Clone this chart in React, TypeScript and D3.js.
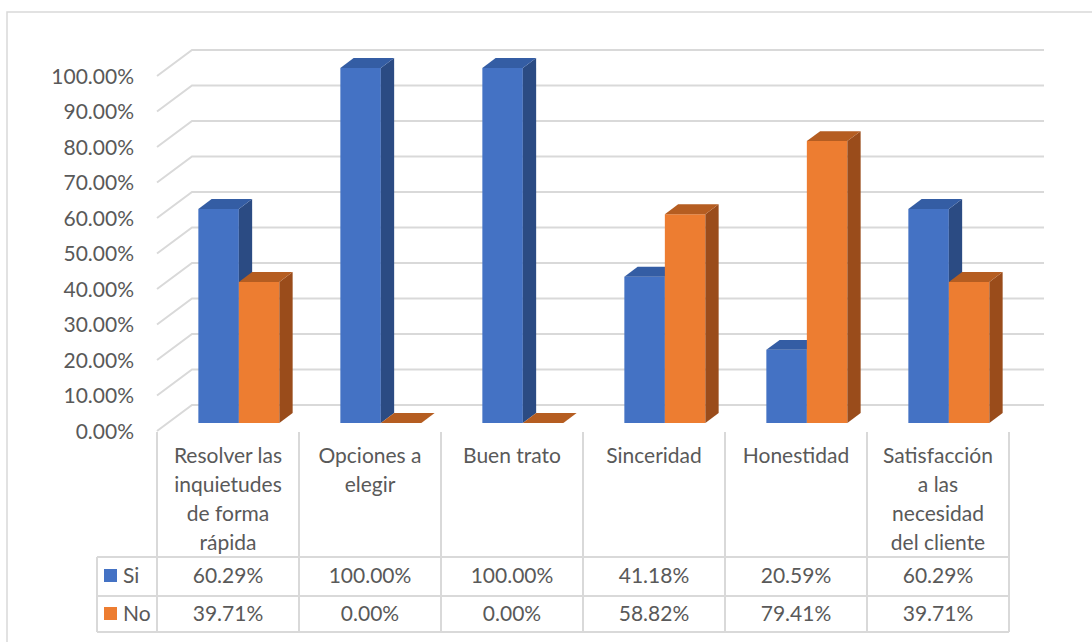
import React from "react";
import * as d3 from "d3";

const categories: string[][] = [
  ["Resolver las", "inquietudes", "de forma", "rápida"],
  ["Opciones a", "elegir"],
  ["Buen trato"],
  ["Sinceridad"],
  ["Honestidad"],
  ["Satisfacción", "a las", "necesidad", "del cliente"],
];
const seriesNames = ["Si", "No"];
const siValues = [0.6029, 1.0, 1.0, 0.4118, 0.2059, 0.6029];
const noValues = [0.3971, 0.0, 0.0, 0.5882, 0.7941, 0.3971];
const yTicks = [0, 0.1, 0.2, 0.3, 0.4, 0.5, 0.6, 0.7, 0.8, 0.9, 1.0];

const W = 1092;
const H = 642;
const FONT = "Lato, 'Open Sans', sans-serif";
const FS = 21;
const TEXT = "#595959";
const GRID = "#d9d9d9";

const colors = [
  { front: "#4472C4", side: "#2B4B83", top: "#345DA4" },
  { front: "#ED7D31", side: "#9A4C1B", top: "#B55D21" },
];

export default function App() {
  const catIdx = categories.map((_, i) => String(i));
  const x = d3.scaleBand<string>().domain(catIdx).range([157, 1009]).padding(0);
  const y = d3.scaleLinear().domain([0, 1]).range([431, 76]);
  const DX = 35;
  const DY = -26;
  const P = (px: number, v: number, z: number): [number, number] => [px + z * DX, y(v) + z * DY];
  const z0 = 0.31;
  const z1 = 0.69;
  const barW = 40.5;
  const fmt = (v: number) => (v * 100).toFixed(2) + "%";
  const data = [siValues, noValues];
  const poly = (pts: [number, number][]) => pts.map((p) => p.join(",")).join(" ");

  const bars: React.ReactNode[] = [];
  catIdx.forEach((c, ci) => {
    const cx = (x(c) as number) + x.bandwidth() / 2;
    const inner = d3.scaleBand<number>().domain([0, 1]).range([cx - barW, cx + barW]);
    data.forEach((vals, si) => {
      const v = vals[ci];
      const bx0 = inner(si) as number;
      const bx1 = bx0 + inner.bandwidth();
      const col = colors[si];
      const front = [P(bx0, 0, z0), P(bx1, 0, z0), P(bx1, v, z0), P(bx0, v, z0)];
      const side = [P(bx1, 0, z0), P(bx1, 0, z1), P(bx1, v, z1), P(bx1, v, z0)];
      const top = [P(bx0, v, z0), P(bx1, v, z0), P(bx1, v, z1), P(bx0, v, z1)];
      bars.push(
        <g key={`b${ci}-${si}`}>
          {v > 0 && <polygon points={poly(front)} fill={col.front} />}
          {v > 0 && <polygon points={poly(side)} fill={col.side} />}
          <polygon points={poly(top)} fill={col.top} />
        </g>
      );
    });
  });

  const boundaries = [...catIdx.map((c) => x(c) as number), 1009];
  const rowTop = 557;
  const rowMid = 596;
  const rowBot = 632;
  const legLeft = 97;

  return (
    <div style={{ position: "fixed", left: 0, top: 0, width: W, height: H, background: "#fff" }}>
      <svg width={W} height={H} style={{ display: "block" }}>
        <rect x={0} y={0} width={W} height={H} fill="#fff" />
        <rect x={7} y={12} width={W} height={H} fill="none" stroke={GRID} strokeWidth={1.5} />
        {yTicks.map((t) => {
          const a = P(157, t, 0);
          const b = P(157, t, 1);
          const c = P(1009, t, 1);
          return (
            <g key={`g${t}`}>
              <polyline points={poly([a, b, c])} fill="none" stroke={GRID} strokeWidth={2} />
              <text x={134} y={a[1] + 7.5} textAnchor="end" fontFamily={FONT} fontSize={FS} fill={TEXT}>
                {fmt(t)}
              </text>
            </g>
          );
        })}
        {bars}
        {boundaries.map((bx, i) => (
          <line key={`v${i}`} x1={bx} x2={bx} y1={432} y2={rowBot} stroke={GRID} strokeWidth={2} />
        ))}
        <line x1={legLeft} x2={legLeft} y1={rowTop} y2={rowBot} stroke={GRID} strokeWidth={2} />
        {[rowTop, rowMid, rowBot].map((ry, i) => (
          <line key={`h${i}`} x1={legLeft} x2={1009} y1={ry} y2={ry} stroke={GRID} strokeWidth={2} />
        ))}
        {categories.map((lines, ci) => {
          const cx = (x(String(ci)) as number) + x.bandwidth() / 2;
          return (
            <text key={`c${ci}`} textAnchor="middle" fontFamily={FONT} fontSize={FS} fill={TEXT}>
              {lines.map((ln, li) => (
                <tspan key={li} x={cx} y={463 + li * 29}>
                  {ln}
                </tspan>
              ))}
            </text>
          );
        })}
        {data.map((vals, si) => {
          const baseY = si === 0 ? 583 : 621;
          return (
            <g key={`r${si}`}>
              <rect x={104} y={baseY - 14} width={13} height={13} fill={colors[si].front} />
              <text x={123} y={baseY} fontFamily={FONT} fontSize={FS} fill={TEXT}>
                {seriesNames[si]}
              </text>
              {vals.map((v, ci) => {
                const cx = (x(String(ci)) as number) + x.bandwidth() / 2;
                return (
                  <text key={`t${ci}`} x={cx} y={baseY} textAnchor="middle" fontFamily={FONT} fontSize={FS} fill={TEXT}>
                    {fmt(v)}
                  </text>
                );
              })}
            </g>
          );
        })}
      </svg>
    </div>
  );
}
